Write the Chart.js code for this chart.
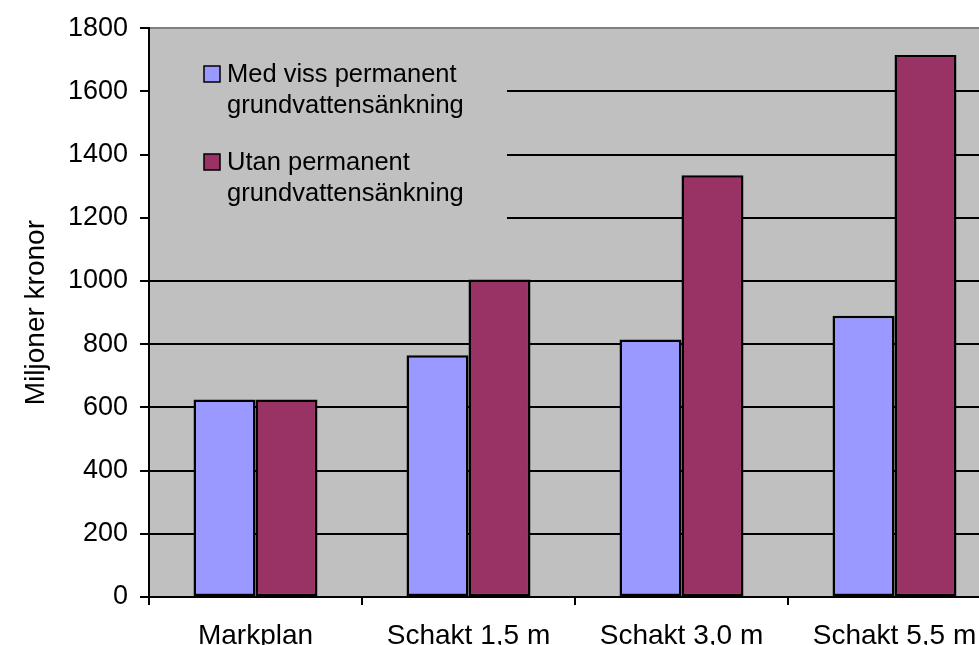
<!DOCTYPE html>
<html>
<head>
<meta charset="utf-8">
<script src="https://cdn.jsdelivr.net/npm/chart.js@4/dist/chart.umd.min.js"></script>
<style>
  html, body { margin: 0; padding: 0; background: #ffffff; overflow: hidden; }
  #wrap { width: 979px; height: 645px; overflow: hidden; }
</style>
</head>
<body>
<div id="wrap"><canvas id="c" width="1002" height="645"></canvas></div>
<script>
// Kostnad per utförande (miljoner kronor)
const categories = ['Markplan', 'Schakt 1,5 m', 'Schakt 3,0 m', 'Schakt 5,5 m'];
const seriesNames = [
  ['Med viss permanent', 'grundvattensänkning'],
  ['Utan permanent', 'grundvattensänkning']
];
const medVissSankning = [625, 765, 815, 890];
const utanSankning = [625, 1005, 1335, 1715];
const yTicks = [0, 200, 400, 600, 800, 1000, 1200, 1400, 1600, 1800];

const FONT = '"Liberation Sans", Arial, sans-serif';
const PLOT_BG = '#C0C0C0';

// Grey plot area behind grid and bars
const plotBackground = {
  id: 'plotBackground',
  beforeDraw(chart) {
    const { ctx, chartArea: a } = chart;
    ctx.save();
    ctx.fillStyle = PLOT_BG;
    ctx.fillRect(a.left, a.top, a.right - a.left, a.bottom - a.top);
    ctx.restore();
  }
};

// Legend box placed inside the plot area, two-line entries
const innerLegend = {
  id: 'innerLegend',
  afterDatasetsDraw(chart) {
    const { ctx, chartArea: a } = chart;
    const boxRight = 507;
    const boxBottom = 232;
    ctx.save();
    ctx.fillStyle = PLOT_BG;
    ctx.fillRect(a.left + 1, a.top + 1, boxRight - a.left - 1, boxBottom - a.top - 1);
    ctx.font = '25.5px ' + FONT;
    ctx.textBaseline = 'alphabetic';
    ctx.textAlign = 'left';
    const entries = chart.data.datasets.map((ds, i) => ({
      color: ds.backgroundColor,
      lines: seriesNames[i]
    }));
    const firstBaseline = 82;
    const itemStep = 88;
    const lineStep = 31;
    entries.forEach((e, i) => {
      const base = firstBaseline + i * itemStep;
      ctx.fillStyle = e.color;
      ctx.fillRect(204, base - 16, 16, 16);
      ctx.lineWidth = 1.5;
      ctx.strokeStyle = '#000';
      ctx.strokeRect(204, base - 16, 16, 16);
      ctx.fillStyle = '#000';
      e.lines.forEach((t, j) => ctx.fillText(t, 227, base + j * lineStep));
    });
    ctx.restore();
  }
};

new Chart(document.getElementById('c'), {
  type: 'bar',
  data: {
    labels: categories,
    datasets: [
      {
        label: seriesNames[0].join(' '),
        data: medVissSankning,
        backgroundColor: '#9999FF',
        borderColor: '#000000',
        borderWidth: 2.5,
        borderSkipped: false
      },
      {
        label: seriesNames[1].join(' '),
        data: utanSankning,
        backgroundColor: '#993366',
        borderColor: '#000000',
        borderWidth: 2.5,
        borderSkipped: false
      }
    ]
  },
  options: {
    responsive: false,
    animation: false,
    layout: { padding: { top: 26, right: 1, left: 0, bottom: 0 } },
    datasets: { bar: { categoryPercentage: 0.582, barPercentage: 1.0 } },
    plugins: {
      legend: { display: false },
      tooltip: { enabled: false }
    },
    scales: {
      x: {
        offset: true,
        grid: {
          offset: true,
          drawOnChartArea: false,
          color: '#000',
          lineWidth: 2,
          tickLength: 8
        },
        border: { color: '#000', width: 2 },
        ticks: {
          color: '#000',
          font: { family: FONT, size: 28 },
          padding: 14,
          maxRotation: 0,
          autoSkip: false
        },
        afterFit(s) { s.height = 48; }
      },
      y: {
        min: 0,
        max: 1800,
        afterBuildTicks(s) { s.ticks = yTicks.map(v => ({ value: v })); },
        grid: {
          color: c => (c.tick && c.tick.value === 1800 ? '#808080' : '#000'),
          tickColor: '#000',
          lineWidth: 2,
          tickLength: 9
        },
        border: { color: '#000', width: 2 },
        ticks: {
          color: '#000',
          font: { family: FONT, size: 27 },
          padding: 12,
          callback: v => String(v)
        },
        title: {
          display: true,
          text: 'Miljoner kronor',
          color: '#000',
          font: { family: FONT, size: 28 },
          padding: { top: 19, bottom: 0 }
        },
        afterFit(s) { s.width = 149; }
      }
    }
  },
  plugins: [plotBackground, innerLegend]
});
</script>
</body>
</html>
